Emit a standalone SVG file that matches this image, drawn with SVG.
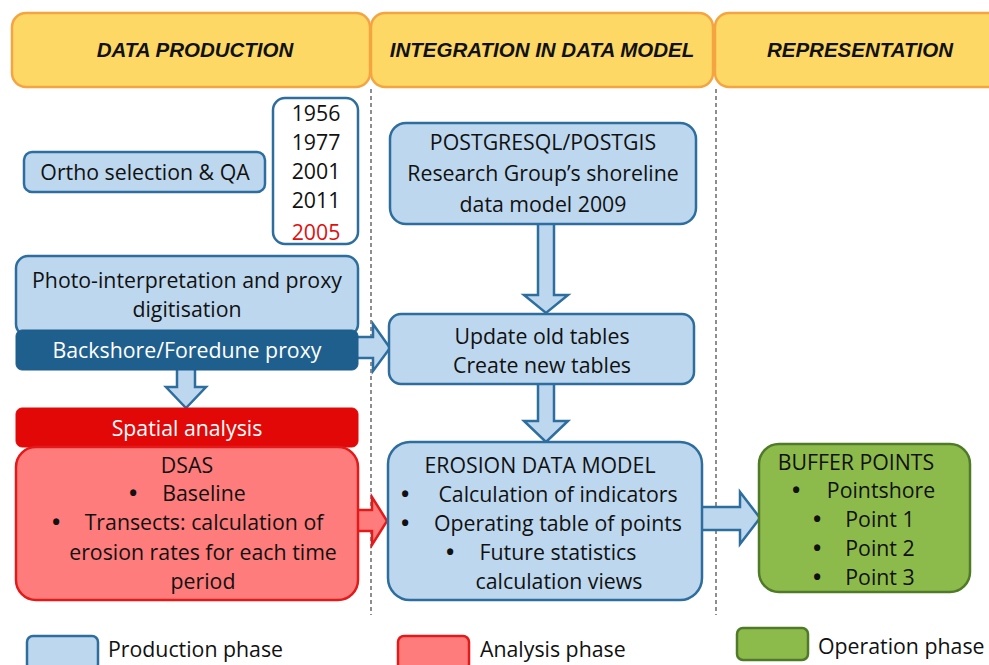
<svg xmlns="http://www.w3.org/2000/svg" width="989" height="665" viewBox="0 0 989 665">
<style>
.hdr{fill:#FDD865;stroke:#F5A442;stroke-width:2.5}
.ht{font-family:"Liberation Sans",Arial,sans-serif;font-weight:bold;font-style:italic;font-size:20.5px;fill:#111;text-anchor:middle}
.t{font-family:"Open Sans","Liberation Sans",sans-serif;font-size:21.3px;fill:#111;text-anchor:middle}
.tw{font-family:"Open Sans","Liberation Sans",sans-serif;font-size:21.3px;fill:#fff;text-anchor:middle}
.tl{font-family:"Open Sans","Liberation Sans",sans-serif;font-size:21.3px;fill:#111}
.bu{font-family:"Open Sans","Liberation Sans",sans-serif;font-size:22px;font-weight:bold;fill:#111}
.blue{fill:#BDD7EE;stroke:#2E6E9E;stroke-width:2.5}
.red{fill:#FF7C7C;stroke:#E41A1A;stroke-width:2.5}
.green{fill:#8DBB4B;stroke:#4F7A28;stroke-width:2.5}
.dash{stroke:#444;stroke-width:1.2;stroke-dasharray:4 3;fill:none}
.arb{fill:#BDD7EE;stroke:#2E6E9E;stroke-width:2.5;stroke-linejoin:miter}
.arr{fill:#FF7C7C;stroke:#E41A1A;stroke-width:2.5}
</style>
<rect width="989" height="665" fill="#fff"/>
<g id="headers">
<rect class="hdr" x="12" y="13" width="358" height="74" rx="14"/>
<rect class="hdr" x="371" y="13" width="342" height="74" rx="14"/>
<rect class="hdr" x="715" y="13" width="300" height="74" rx="14"/>
<text class="ht" x="195" y="57">DATA PRODUCTION</text>
<text class="ht" x="542" y="57">INTEGRATION IN DATA MODEL</text>
<text class="ht" x="860" y="57">REPRESENTATION</text>
</g>
<g id="dividers">
<line class="dash" x1="371" y1="89" x2="371" y2="615"/>
<line class="dash" x1="716" y1="89" x2="716" y2="615"/>
</g>
<g id="connectors">
<path class="arb" d="M538,224 V295 H524 L546,313 L568,295 H554 V224"/>
<path class="arb" d="M358,337 H373 V324 L390,348 L373,371 V358 H358"/>
<path class="arb" d="M177,370 V387 H166 L186,408 L206,387 H195 V370"/>
<path class="arb" d="M538,384 V421 H524 L546,442 L568,421 H554 V384"/>
<path class="arr" d="M358,510 H372 V497 L387,521 L372,545 V531 H358"/>
<path class="arb" d="M702,507 H740 V492 L760,518 L740,544 V530 H702"/>
</g>
<g id="ortho">
<rect class="blue" x="24" y="152" width="241" height="40" rx="8"/>
<text class="t" x="145" y="180">Ortho selection &amp; QA</text>
</g>
<g id="years">
<rect x="273" y="98" width="85" height="146" rx="12" fill="#fff" stroke="#2E6E9E" stroke-width="2.5"/>
<text class="t" x="316" y="121">1956</text>
<text class="t" x="316" y="150">1977</text>
<text class="t" x="316" y="179">2001</text>
<text class="t" x="316" y="208">2011</text>
<text class="t" x="316" y="240" style="fill:#E01010">2005</text>
</g>
<g id="postgres">
<rect class="blue" x="390" y="123" width="306" height="101" rx="16"/>
<text class="t" x="543" y="150">POSTGRESQL/POSTGIS</text>
<text class="t" x="543" y="181">Research Group’s shoreline</text>
<text class="t" x="543" y="212">data model 2009</text>
</g>
<g id="photo">
<rect class="blue" x="16" y="256" width="342" height="80" rx="12"/>
<text class="t" x="187" y="288">Photo-interpretation and proxy</text>
<text class="t" x="187" y="317">digitisation</text>
</g>
<g id="backshore">
<rect x="16" y="330" width="342" height="40" rx="6" fill="#1F5F8E" stroke="#1F5F8E" stroke-width="1"/>
<text class="tw" x="187" y="358">Backshore/Foredune proxy</text>
</g>
<g id="update">
<rect class="blue" x="389" y="314" width="305" height="70" rx="12"/>
<text class="t" x="542" y="344">Update old tables</text>
<text class="t" x="542" y="373">Create new tables</text>
</g>
<g id="spatial">
<rect x="16" y="408" width="342" height="39" rx="6" fill="#E30808" stroke="#E30808" stroke-width="1"/>
<text class="tw" x="187" y="436">Spatial analysis</text>
</g>
<g id="dsas">
<rect class="red" x="16" y="447" width="342" height="153" rx="20"/>
<text class="t" x="187" y="473">DSAS</text>
<text class="bu" x="129" y="501">•</text>
<text class="t" x="204" y="501">Baseline</text>
<text class="bu" x="52" y="530">•</text>
<text class="t" x="204" y="530">Transects: calculation of</text>
<text class="t" x="203" y="560">erosion rates for each time</text>
<text class="t" x="203" y="589">period</text>
</g>
<g id="erosion">
<rect class="blue" x="388" y="442" width="314" height="158" rx="22"/>
<text class="t" x="540" y="473">EROSION DATA MODEL</text>
<text class="bu" x="401" y="502">•</text>
<text class="t" x="558" y="502">Calculation of indicators</text>
<text class="bu" x="401" y="531">•</text>
<text class="t" x="558" y="531">Operating table of points</text>
<text class="bu" x="446" y="560">•</text>
<text class="t" x="558" y="560">Future statistics</text>
<text class="t" x="559" y="589">calculation views</text>
</g>
<g id="buffer">
<rect class="green" x="759" y="444" width="211" height="148" rx="20"/>
<text class="t" x="856" y="470">BUFFER POINTS</text>
<text class="bu" x="792" y="498">•</text>
<text class="t" x="881" y="498">Pointshore</text>
<text class="bu" x="813" y="527">•</text>
<text class="t" x="880" y="527">Point 1</text>
<text class="bu" x="813" y="556">•</text>
<text class="t" x="880" y="556">Point 2</text>
<text class="bu" x="813" y="585">•</text>
<text class="t" x="880" y="585">Point 3</text>
</g>
<g id="legend">
<rect class="blue" x="27" y="636" width="71" height="34" rx="6"/>
<text class="tl" x="108" y="657">Production phase</text>
<rect class="red" x="398" y="636" width="71" height="34" rx="6"/>
<text class="tl" x="480" y="657">Analysis phase</text>
<rect class="green" x="737" y="628" width="71" height="32" rx="6"/>
<text class="tl" x="818" y="654">Operation phase</text>
</g>
</svg>
